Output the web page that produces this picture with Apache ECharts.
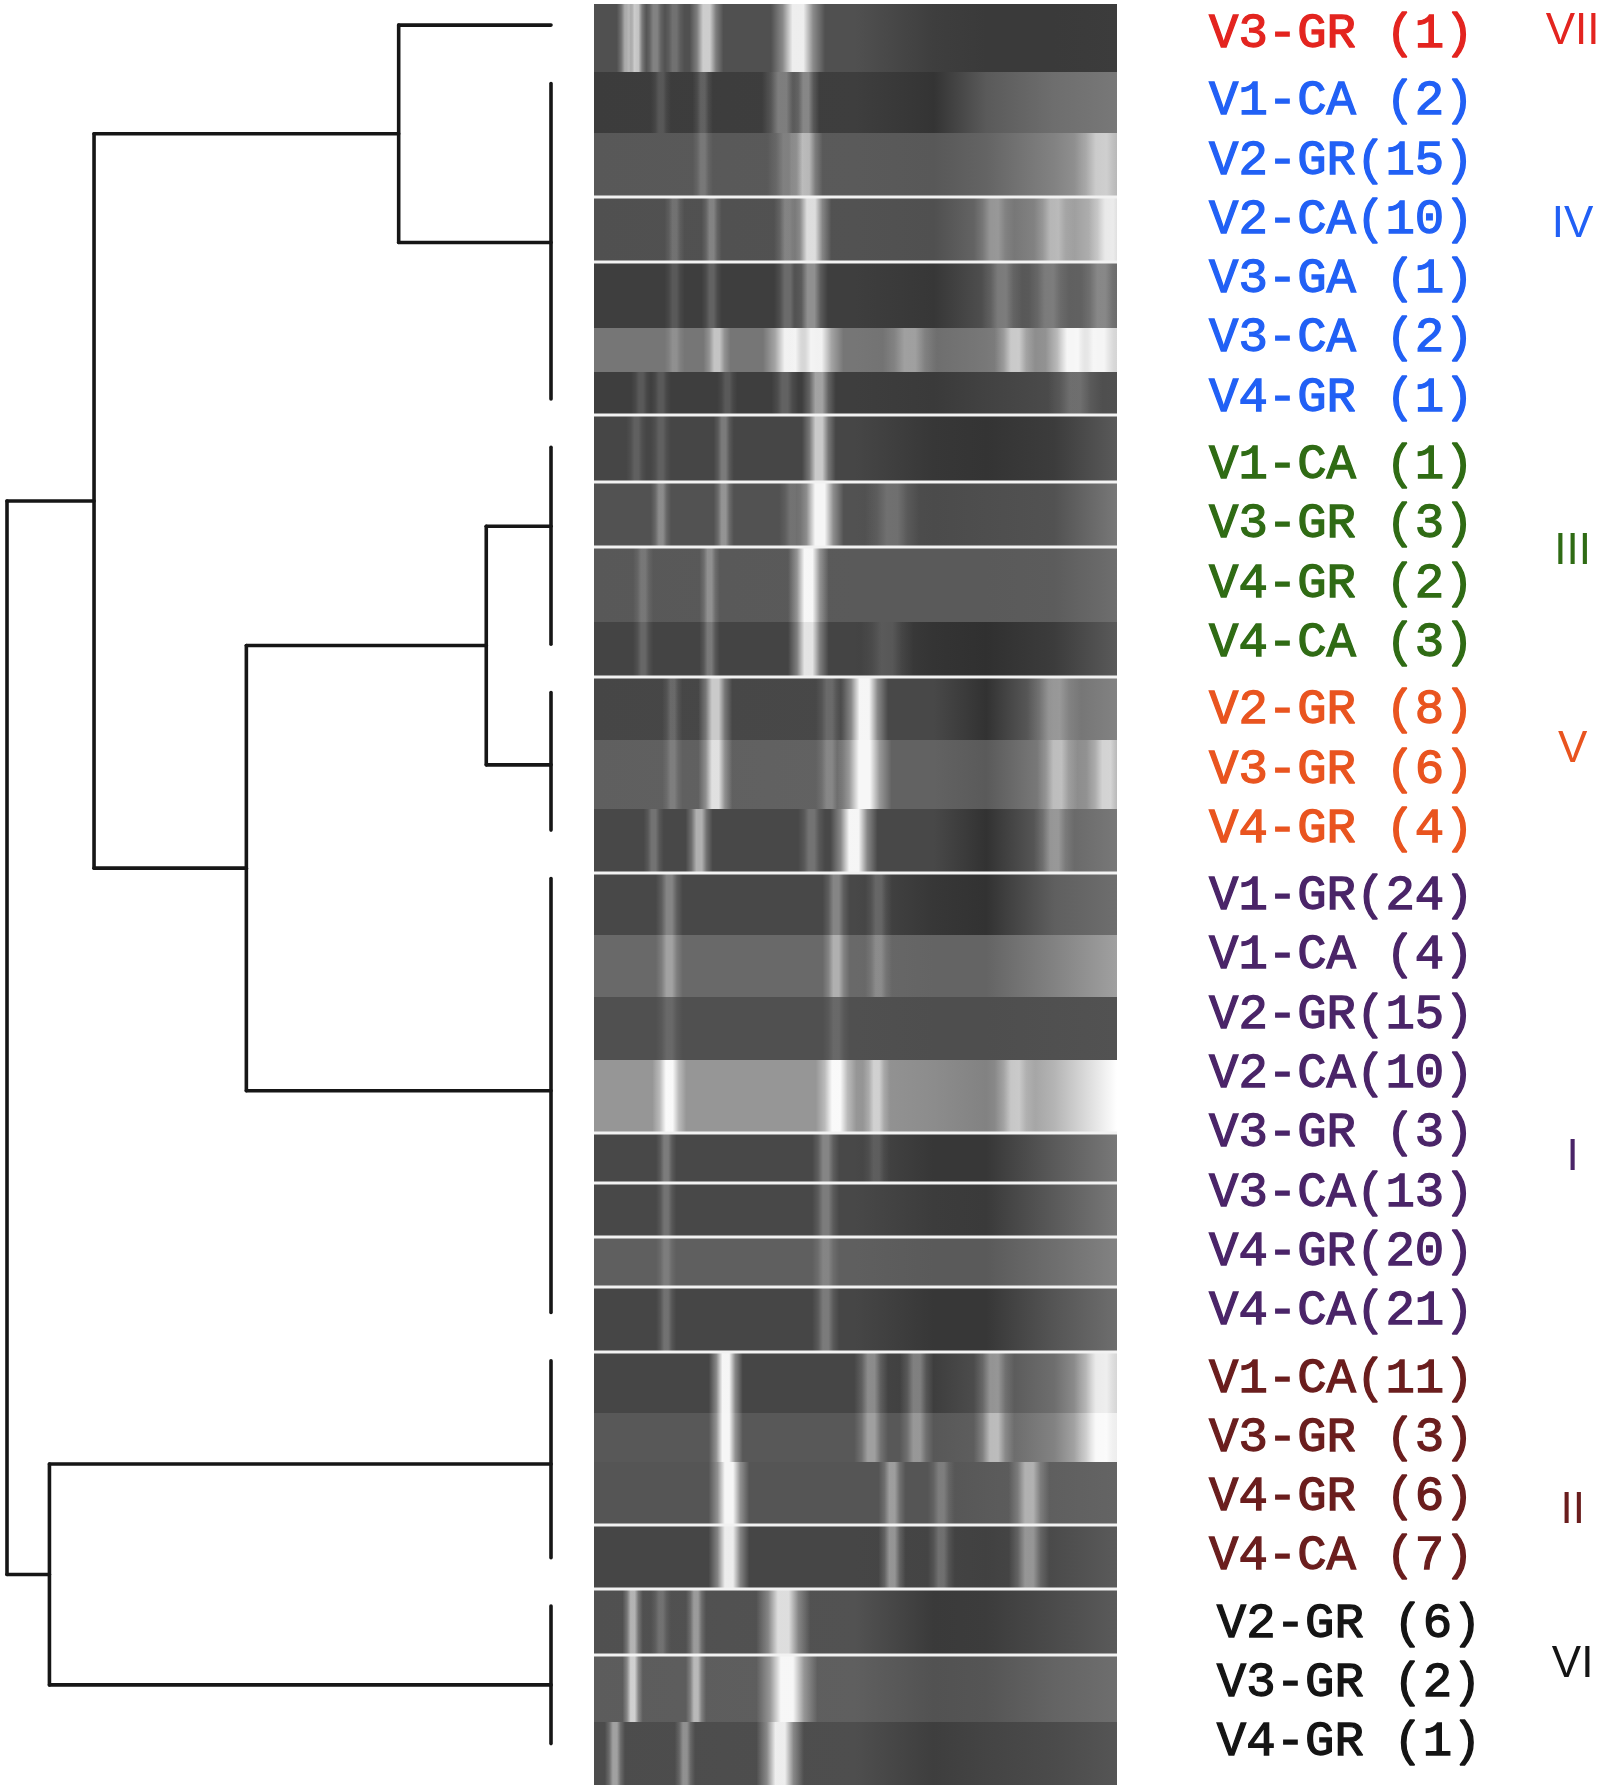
<!DOCTYPE html>
<html>
<head>
<meta charset="utf-8">
<script src="https://cdn.jsdelivr.net/npm/echarts@6/dist/echarts.min.js"></script>
<style>
html,body{margin:0;padding:0;background:#ffffff;}
#chart{width:1600px;height:1792px;}
</style>
</head>
<body>
<div id="chart"></div>
<script>
// ================= DATA =================
// cluster groups (top to bottom)
const groupNames  = ['VII', 'IV', 'III', 'V', 'I', 'II', 'VI'];
const groupColors = ['#e3241f', '#2160f5', '#2f6b14', '#e9541f', '#4a2468', '#6a1d1d', '#141414'];

// samples (one per gel lane / label row)
const sampleSite  = ['V3-GR',
  'V1-CA', 'V2-GR', 'V2-CA', 'V3-GA', 'V3-CA', 'V4-GR',
  'V1-CA', 'V3-GR', 'V4-GR', 'V4-CA',
  'V2-GR', 'V3-GR', 'V4-GR',
  'V1-GR', 'V1-CA', 'V2-GR', 'V2-CA', 'V3-GR', 'V3-CA', 'V4-GR', 'V4-CA',
  'V1-CA', 'V3-GR', 'V4-GR', 'V4-CA',
  'V2-GR', 'V3-GR', 'V4-GR'];
const sampleCount = [1,
  2, 15, 10, 1, 2, 1,
  1, 3, 2, 3,
  8, 6, 4,
  24, 4, 15, 10, 3, 13, 20, 21,
  11, 3, 6, 7,
  6, 2, 1];
const sampleGroup = [0,
  1, 1, 1, 1, 1, 1,
  2, 2, 2, 2,
  3, 3, 3,
  4, 4, 4, 4, 4, 4, 4, 4,
  5, 5, 5, 5,
  6, 6, 6];

// dendrogram merges: [new node, left child, right child, linkage distance]
const treeMerges = [
  ['A', 'VII', 'IV', 28],
  ['B', 'III', 'V', 11.9],
  ['C', 'B', 'I', 56],
  ['D', 'A', 'C', 84],
  ['E', 'II', 'VI', 92.2],
  ['root', 'D', 'E', 100]
];

// gel: background brightness profile of every lane (0-255) at these migration positions (%)
const gelBgStops = [0, 50, 65, 75, 88, 100];
const gelLaneBg = [
  [80, 80, 62, 58, 58, 60],
  [60, 62, 52, 90, 110, 120],
  [88, 90, 88, 100, 130, 170],
  [80, 82, 80, 105, 140, 200],
  [62, 62, 55, 80, 95, 100],
  [118, 118, 110, 120, 150, 200],
  [62, 62, 58, 66, 75, 80],
  [70, 70, 55, 52, 60, 90],
  [82, 82, 75, 78, 82, 120],
  [88, 90, 90, 90, 92, 110],
  [68, 68, 52, 48, 60, 90],
  [70, 72, 72, 50, 110, 130],
  [95, 98, 98, 90, 130, 160],
  [72, 72, 72, 50, 100, 120],
  [72, 72, 55, 50, 95, 110],
  [105, 105, 100, 100, 130, 160],
  [80, 80, 78, 78, 80, 82],
  [150, 150, 140, 130, 180, 255],
  [72, 72, 55, 55, 90, 120],
  [72, 72, 60, 58, 90, 120],
  [95, 95, 90, 90, 110, 130],
  [70, 70, 55, 55, 85, 110],
  [70, 70, 62, 80, 110, 200],
  [88, 88, 88, 95, 130, 230],
  [85, 85, 85, 90, 95, 100],
  [70, 70, 68, 65, 75, 90],
  [80, 82, 58, 60, 75, 90],
  [92, 95, 82, 85, 100, 110],
  [76, 78, 62, 68, 75, 85]
];
// gel bands per lane: [migration position %, intensity 0-1, band width %]
const gelBands = [
  [[6.3, 0.55, 1.5], [8.1, 0.7, 1.5], [11.7, 0.3, 1.5], [15.4, 0.2, 1.5], [21.5, 0.75, 2.5], [39, 0.95, 4]],
  [[12.8, 0.15, 1.5], [20.8, 0.2, 1.5], [36, 0.35, 3], [40.5, 0.4, 2]],
  [[20.8, 0.2, 1.5], [37, 0.25, 3], [40.5, 0.6, 2.5], [97, 0.5, 4]],
  [[15.4, 0.2, 1.5], [22.5, 0.3, 1.5], [37, 0.3, 2], [41.5, 0.85, 3], [76.5, 0.3, 3], [88, 0.4, 3], [98.5, 0.7, 3]],
  [[15.4, 0.15, 1.5], [22.5, 0.2, 1.5], [37, 0.25, 2], [41.5, 0.45, 2.5], [78, 0.25, 3], [87, 0.2, 3], [97, 0.25, 3]],
  [[15.4, 0.2, 1.5], [23.5, 0.6, 2], [37.5, 0.95, 4], [42.5, 0.95, 4], [60.4, 0.35, 4], [80.5, 0.6, 3], [91.5, 0.95, 4], [96.5, 0.9, 4]],
  [[9, 0.15, 1.5], [12.8, 0.15, 1.5], [25.5, 0.15, 1.5], [36.5, 0.2, 2], [43, 0.55, 2.5], [92, 0.2, 4]],
  [[8.1, 0.15, 1.5], [12.8, 0.15, 1.5], [24.8, 0.3, 1.5], [43, 0.75, 2.5]],
  [[12.8, 0.35, 1.5], [24.8, 0.4, 1.5], [38, 0.2, 2], [43.2, 1.0, 3.5], [57, 0.2, 4]],
  [[9.4, 0.2, 1.5], [22.1, 0.35, 1.5], [41, 1.0, 3]],
  [[9.4, 0.2, 1.5], [22.1, 0.3, 1.5], [41, 0.9, 3], [56, 0.15, 4]],
  [[15, 0.2, 1.5], [23.2, 0.75, 2.5], [45, 0.2, 2], [51.7, 1.0, 3.5], [88, 0.3, 4]],
  [[15, 0.2, 1.5], [23.2, 0.85, 2.5], [45, 0.25, 2], [51.7, 1.0, 4], [88.6, 0.5, 3], [98, 0.6, 3]],
  [[11.4, 0.25, 1.5], [20.1, 0.6, 2], [41.6, 0.25, 2], [49.7, 1.0, 3.5], [88, 0.35, 3]],
  [[14.4, 0.35, 2], [46.3, 0.35, 2], [54.4, 0.2, 2]],
  [[14.4, 0.4, 2], [46.3, 0.5, 2], [54.4, 0.25, 2]],
  [[14.4, 0.15, 2], [46.3, 0.15, 2]],
  [[14.4, 1.0, 2.5], [46.3, 1.0, 3], [54, 0.6, 2], [80.5, 0.5, 3]],
  [[13.8, 0.3, 1.5], [44.3, 0.35, 2], [54, 0.15, 2]],
  [[13.8, 0.25, 1.5], [44.3, 0.3, 2]],
  [[13.8, 0.2, 1.5], [44.3, 0.25, 2]],
  [[13.8, 0.25, 1.5], [44.3, 0.3, 2]],
  [[25.2, 1.0, 2.5], [53, 0.4, 2.5], [61.7, 0.35, 2.5], [76.5, 0.4, 3], [97, 0.8, 4]],
  [[25.2, 1.0, 2.5], [53, 0.45, 2.5], [61.7, 0.4, 2.5], [76.5, 0.6, 3], [97, 0.95, 4]],
  [[25.8, 1.0, 3], [57, 0.45, 2], [66.4, 0.25, 2], [83.2, 0.55, 3]],
  [[25.8, 0.95, 3], [57, 0.45, 2], [66.4, 0.25, 2], [83.2, 0.45, 3]],
  [[7.4, 0.6, 1.5], [12.8, 0.2, 1.5], [19.5, 0.45, 1.5], [36.2, 0.85, 4]],
  [[7.4, 0.75, 1.5], [19.5, 0.6, 1.5], [36.9, 1.0, 4.5]],
  [[4, 0.5, 1.5], [17.4, 0.4, 1.5], [35.6, 0.95, 3.5]]
];
// 1 = white seam above this lane (strips cut from different gels)
const gelLaneSeam = [0,0,0,1,1,0,0,1,1,1,0,1,0,0,1,0,0,0,1,1,1,1,1,0,0,1,1,1,0];

// ================= LAYOUT =================
const GROUP_GAP = 0.135;          // extra row spacing between groups
const ROW_PITCH = 59.3;           // px per row
const FIRST_ROW_Y = 34;
const tagPos = [-0.03, 3.22, 8.73, 12.08, 18.95, 24.9, 27.5];       // roman numeral anchors (row units)
const leafAttachShift = [-0.15, -0.12, -0.47, -0.08, -0.22, -0.06, 0.03]; // where branch meets cluster bar
const labelShiftX = [0, 0, 0, 0, 0, 0, 0.02];                         // VI labels sit slightly right
// height of each gel strip in px (strips were cut to different heights)
const gelLaneSpan = [68, 61, 64, 65, 66, 44, 43, 67, 65, 75, 55, 63, 69, 64, 62,
                     62, 63, 73, 50, 54, 50, 65, 61, 49, 63, 64, 66, 67, 63];

const rowPos = sampleCount.map((_, i) => i + sampleGroup[i] * GROUP_GAP);
const yMin = -0.5, yMax = rowPos[rowPos.length - 1] + 0.5;
const rowGridTop = FIRST_ROW_Y - 0.5 * ROW_PITCH;
const rowGridHeight = (yMax - yMin) * ROW_PITCH;
const laneEdge = [0];
gelLaneSpan.forEach(s => laneEdge.push(laneEdge[laneEdge.length - 1] + s));

// ---- dendrogram segments derived from tree ----
const nodes = {};
groupNames.forEach((g, gi) => {
  const rows = rowPos.filter((_, i) => sampleGroup[i] === gi);
  const mean = rows.reduce((a, b) => a + b, 0) / rows.length;
  const y0 = rows[0] - 0.3, y1 = rows[rows.length - 1] + 0.02;
  nodes[g] = { h: 0, y: mean + leafAttachShift[gi], bar: rows.length > 1 ? [y0, y1] : null };
});
const segs = [];
groupNames.forEach(g => { const n = nodes[g]; if (n.bar) segs.push([0, n.bar[0], 0, n.bar[1]]); });
treeMerges.forEach(([name, l, r, h]) => {
  const L = nodes[l], R = nodes[r];
  segs.push([L.h, L.y, h, L.y]);
  segs.push([R.h, R.y, h, R.y]);
  segs.push([h, L.y, h, R.y]);
  nodes[name] = { h: h, y: (L.y + R.y) / 2 };
});

const gray = v => 'rgb(' + v + ',' + v + ',' + v + ')';
const labelText = i => sampleSite[i] + (sampleCount[i] < 10 ? ' (' + sampleCount[i] + ')' : '(' + sampleCount[i] + ')');

const chart = echarts.init(document.getElementById('chart'), null, { renderer: 'canvas', width: 1600, height: 1792 });

const option = {
  backgroundColor: '#ffffff',
  animation: false,
  grid: [
    { left: 7, width: 544, top: rowGridTop, height: rowGridHeight },
    { left: 594, width: 523, top: 4, height: laneEdge[laneEdge.length - 1] },
    { left: 1209, width: 391, top: rowGridTop, height: rowGridHeight }
  ],
  xAxis: [
    { gridIndex: 0, type: 'value', min: 0, max: 100, inverse: true, show: false },
    { gridIndex: 1, type: 'value', min: 0, max: 100, show: false },
    { gridIndex: 2, type: 'value', min: 0, max: 1, show: false }
  ],
  yAxis: [
    { gridIndex: 0, type: 'value', min: yMin, max: yMax, inverse: true, show: false },
    { gridIndex: 1, type: 'value', min: 0, max: laneEdge[laneEdge.length - 1], inverse: true, show: false },
    { gridIndex: 2, type: 'value', min: yMin, max: yMax, inverse: true, show: false }
  ],
  series: [
    // dendrogram
    {
      type: 'custom', xAxisIndex: 0, yAxisIndex: 0, clip: false,
      dimensions: ['x1', 'y1', 'x2', 'y2'],
      encode: { x: [0, 2], y: [1, 3] },
      data: segs,
      renderItem: (params, api) => {
        const a = api.coord([api.value(0), api.value(1)]);
        const b = api.coord([api.value(2), api.value(3)]);
        return {
          type: 'line',
          shape: { x1: a[0], y1: a[1], x2: b[0], y2: b[1] },
          style: { stroke: '#161616', lineWidth: 3.6, lineCap: 'round' }
        };
      }
    },
    // gel lanes
    {
      type: 'custom', xAxisIndex: 1, yAxisIndex: 1, clip: true,
      data: sampleCount.map((_, i) => [i]),
      renderItem: (params, api) => {
        const i = params.dataIndex;
        const tl = api.coord([0, laneEdge[i]]);
        const br = api.coord([100, laneEdge[i + 1]]);
        const w = br[0] - tl[0], h = br[1] - tl[1];
        const children = [];
        const bg = gelLaneBg[i];
        children.push({
          type: 'rect',
          shape: { x: tl[0], y: tl[1], width: w, height: h },
          style: {
            fill: new echarts.graphic.LinearGradient(0, 0, 1, 0,
              gelBgStops.map((s, k) => ({ offset: s / 100, color: gray(bg[k]) })))
          }
        });
        gelBands[i].forEach(([pos, inten, bw]) => {
          const xa = api.coord([pos - bw * 1.3, 0])[0];
          const xb = api.coord([pos + bw * 1.3, 0])[0];
          const c = a => 'rgba(255,255,255,' + Math.min(1, a).toFixed(3) + ')';
          children.push({
            type: 'rect',
            shape: { x: xa, y: tl[1], width: xb - xa, height: h },
            style: {
              fill: new echarts.graphic.LinearGradient(0, 0, 1, 0, [
                { offset: 0, color: c(0) },
                { offset: 0.22, color: c(inten * 0.35) },
                { offset: 0.4, color: c(inten * 0.95) },
                { offset: 0.6, color: c(inten * 0.95) },
                { offset: 0.78, color: c(inten * 0.35) },
                { offset: 1, color: c(0) }
              ])
            }
          });
        });
        if (gelLaneSeam[i]) {
          children.push({
            type: 'rect',
            shape: { x: tl[0], y: tl[1] - 1.5, width: w, height: 3 },
            style: { fill: '#f2f2f2' }
          });
        }
        return { type: 'group', children: children };
      }
    },
    // sample labels
    {
      type: 'custom', xAxisIndex: 2, yAxisIndex: 2, clip: false,
      data: sampleCount.map((_, i) => [0, rowPos[i]]),
      renderItem: (params, api) => {
        const i = params.dataIndex;
        const g = sampleGroup[i];
        const p = api.coord([labelShiftX[g], rowPos[i]]);
        const col = groupColors[g];
        return {
          type: 'text', x: p[0], y: p[1],
          style: {
            text: labelText(i),
            fill: col, stroke: col, lineWidth: 1.3,
            font: '49px "Liberation Mono", "DejaVu Sans Mono", monospace',
            align: 'left', verticalAlign: 'middle',
            textAlign: 'left', textVerticalAlign: 'middle'
          }
        };
      }
    },
    // cluster roman numerals
    {
      type: 'custom', xAxisIndex: 2, yAxisIndex: 2, clip: false,
      data: groupNames.map((_, g) => [0.93, tagPos[g]]),
      renderItem: (params, api) => {
        const g = params.dataIndex;
        const p = api.coord([0.93, tagPos[g]]);
        return {
          type: 'text', x: p[0], y: p[1],
          style: {
            text: groupNames[g],
            fill: groupColors[g],
            font: '44px "Liberation Sans", Arial, sans-serif',
            align: 'center', verticalAlign: 'middle',
            textAlign: 'center', textVerticalAlign: 'middle'
          }
        };
      }
    }
  ]
};
chart.setOption(option);
</script>
</body>
</html>
